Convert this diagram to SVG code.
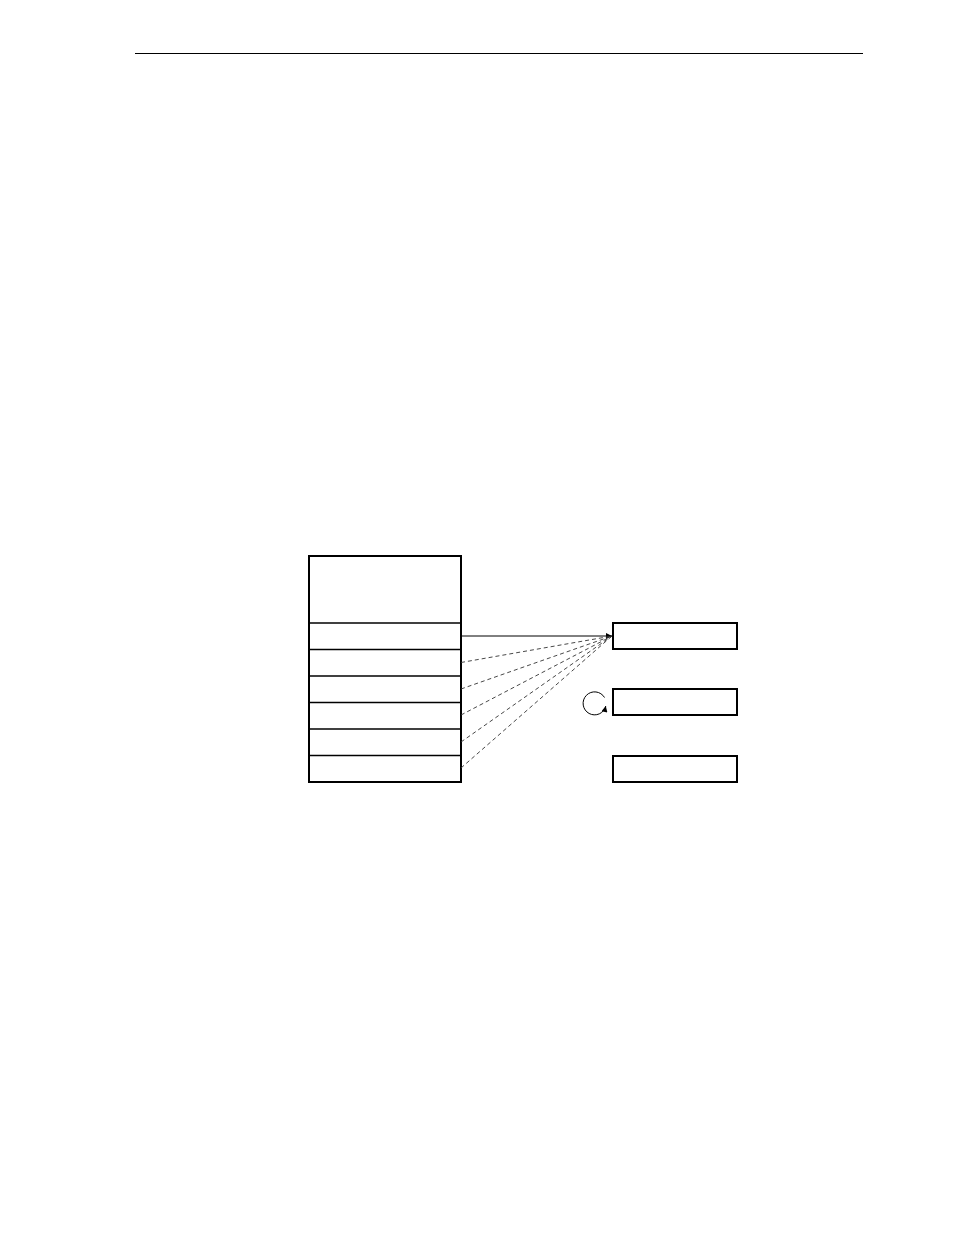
<svg xmlns="http://www.w3.org/2000/svg" width="954" height="1235" viewBox="0 0 954 1235">
<style>
.box{fill:#fff;stroke:#000;stroke-width:2}
.row{stroke:#000;stroke-width:1.3}
.solid{stroke:#000;stroke-width:1;fill:none}
.dash{stroke:#333;stroke-width:0.9;stroke-dasharray:4,3;fill:none}
</style>
<defs>
<marker id="ah" viewBox="0 0 10 10" refX="10" refY="5" markerWidth="8" markerHeight="6" markerUnits="userSpaceOnUse" orient="auto">
<path d="M0,0 L10,5 L0,10 z" fill="#000"/>
</marker>
</defs>
<rect width="954" height="1235" fill="#fff"/>
<line x1="135" y1="53.5" x2="863" y2="53.5" stroke="#000" stroke-width="1"/>
<g id="stack">
<rect class="box" x="309" y="556" width="152" height="226"/>
<line class="row" x1="309" y1="623" x2="461" y2="623"/>
<line class="row" x1="309" y1="649.5" x2="461" y2="649.5"/>
<line class="row" x1="309" y1="676" x2="461" y2="676"/>
<line class="row" x1="309" y1="702.5" x2="461" y2="702.5"/>
<line class="row" x1="309" y1="729" x2="461" y2="729"/>
<line class="row" x1="309" y1="755.5" x2="461" y2="755.5"/>
</g>
<g id="box1"><rect class="box" x="613" y="623" width="124" height="26"/></g>
<g id="box2"><rect class="box" x="613" y="689" width="124" height="26"/></g>
<g id="box3"><rect class="box" x="613" y="756" width="124" height="26"/></g>
<g id="connectors">
<line class="solid" x1="461" y1="636" x2="612" y2="636" marker-end="url(#ah)"/>
<line class="dash" x1="461" y1="662.5" x2="612" y2="636"/>
<line class="dash" x1="461" y1="689" x2="612" y2="636"/>
<line class="dash" x1="461" y1="715" x2="612" y2="636"/>
<line class="dash" x1="461" y1="742" x2="612" y2="636"/>
<line class="dash" x1="461" y1="768" x2="612" y2="636"/>
<path class="solid" d="M604.5,697.5 A11.5,11.5 0 1 0 605.8,706" stroke="#333" marker-end="url(#ah)"/>
</g>
</svg>
